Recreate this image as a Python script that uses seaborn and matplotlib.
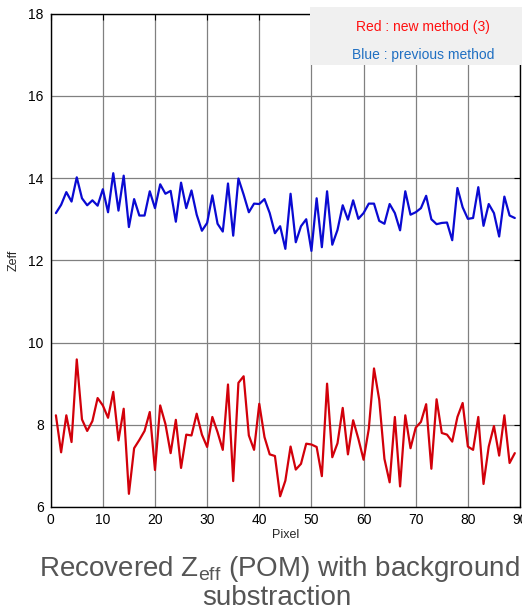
import numpy as np
import pandas as pd
import matplotlib
matplotlib.use("Agg")
import matplotlib.pyplot as plt
from matplotlib.patches import Rectangle
import seaborn as sns

# Pixel index along the detector row
pixels = list(range(1, 90))

# Zeff recovered with the previous method
zeff_previous = [
    13.15, 13.35, 13.66, 13.43, 14.02, 13.51, 13.34, 13.46, 13.33, 13.73,
    13.17, 14.12, 13.21, 14.06, 12.81, 13.49, 13.09, 13.09, 13.68, 13.27,
    13.85, 13.62, 13.69, 12.94, 13.89, 13.27, 13.70, 13.11, 12.72, 12.91,
    13.58, 12.89, 12.70, 13.87, 12.60, 13.99, 13.60, 13.17, 13.38, 13.37,
    13.49, 13.15, 12.66, 12.83, 12.28, 13.62, 12.44, 12.83, 13.00, 12.23,
    13.51, 12.32, 13.68, 12.38, 12.74, 13.34, 12.99, 13.46, 13.01, 13.15,
    13.38, 13.38, 12.96, 12.89, 13.37, 13.15, 12.73, 13.68, 13.11, 13.17,
    13.27, 13.57, 13.00, 12.88, 12.91, 12.92, 12.49, 13.76, 13.29, 13.01,
    13.03, 13.78, 12.84, 13.37, 13.15, 12.58, 13.55, 13.09, 13.03,
]

# Zeff recovered with the new method (3)
zeff_new = [
    8.23, 7.33, 8.23, 7.58, 9.59, 8.13, 7.85, 8.09, 8.65, 8.47,
    8.17, 8.80, 7.62, 8.39, 6.32, 7.43, 7.63, 7.85, 8.31, 6.90,
    8.47, 8.02, 7.31, 8.12, 6.95, 7.76, 7.74, 8.27, 7.76, 7.46,
    8.19, 7.82, 7.39, 8.98, 6.63, 9.02, 9.18, 7.74, 7.39, 8.51,
    7.70, 7.28, 7.24, 6.26, 6.64, 7.47, 6.91, 7.05, 7.54, 7.52,
    7.46, 6.75, 9.00, 7.21, 7.55, 8.41, 7.28, 8.11, 7.66, 7.15,
    7.90, 9.37, 8.61, 7.17, 6.60, 8.19, 6.50, 8.23, 7.43, 7.93,
    8.07, 8.50, 6.93, 8.62, 7.80, 7.76, 7.59, 8.19, 8.53, 7.47,
    7.39, 8.19, 6.56, 7.47, 7.97, 7.25, 8.23, 7.07, 7.31,
]

x_ticks = list(range(0, 91, 10))
y_ticks = list(range(6, 19, 2))

df = pd.DataFrame({
    "Pixel": pixels * 2,
    "Zeff": zeff_previous + zeff_new,
    "method": ["previous"] * len(pixels) + ["new"] * len(pixels),
})

sns.set_style("white")
plt.rcParams["font.family"] = ["Liberation Sans", "DejaVu Sans"]
plt.rcParams["mathtext.fontset"] = "custom"
plt.rcParams["mathtext.rm"] = "Liberation Sans"

fig = plt.figure(figsize=(5.22, 6.12), dpi=100)
ax = fig.add_axes([0.0971, 0.1716, 0.9962 - 0.0971, 0.9776 - 0.1716])

sns.lineplot(data=df, x="Pixel", y="Zeff", hue="method",
             palette={"previous": "#0a0ad2", "new": "#d2000a"},
             linewidth=1.6, legend=False, ax=ax, zorder=3)

ax.set_xlim(0, 90)
ax.set_ylim(6, 18)
ax.set_xticks(x_ticks)
ax.set_yticks(y_ticks)
ax.grid(True, color="#808080", linewidth=0.9, linestyle="-")
ax.set_axisbelow(True)
for side in ax.spines.values():
    side.set_color("black")
    side.set_linewidth(1.0)
ax.tick_params(direction="in", length=4, width=0.8, top=True, right=True,
               labelsize=10, colors="black")
ax.tick_params(axis="x", pad=4)
ax.tick_params(axis="y", pad=5)
ax.set_xlabel("Pixel", fontsize=9, labelpad=2)
ax.set_ylabel("Zeff", fontsize=9, labelpad=6)

# Method key in a grey box at the upper right
fig.patches.append(Rectangle((310 / 522, 1 - 65 / 612), 212 / 522, 58 / 612,
                             transform=fig.transFigure, facecolor="#f0f0f0",
                             edgecolor="none", zorder=10))
fig.text(423 / 522, 1 - 27 / 612, "Red : new method (3)", color="#ff1010",
         fontsize=10, ha="center", va="center", zorder=11)
fig.text(423 / 522, 1 - 55 / 612, "Blue : previous method", color="#1f6fc2",
         fontsize=10, ha="center", va="center", zorder=11)

# Caption under the plot, two lines
fig.text(279 / 522, 1 - 576 / 612,
         "Recovered Z$_\\mathregular{eff}$ (POM) with background",
         color="#555555", fontsize=20, ha="center", va="baseline")
fig.text(277 / 522, 1 - 605 / 612, "substraction",
         color="#555555", fontsize=20, ha="center", va="baseline")

fig.savefig("out.png", dpi=100)
